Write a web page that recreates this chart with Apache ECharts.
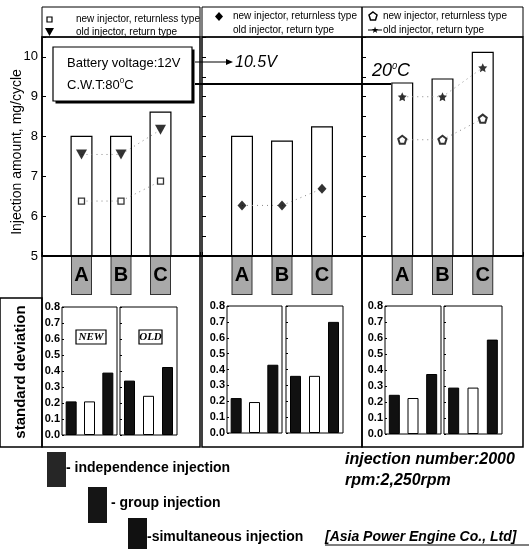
<!DOCTYPE html>
<html><head><meta charset="utf-8">
<script src="https://cdn.jsdelivr.net/npm/echarts@6/dist/echarts.min.js"></script>
<style>html,body{margin:0;padding:0;background:#fff}#c{width:532px;height:549px}</style>
</head><body><div id="c"></div><script>
// ---------- data ----------
const categories = ['A', 'B', 'C'];
const categoryPos = [1, 2, 3];
const injectionModes = ['independence injection', 'group injection', 'simultaneous injection'];
// total bar heights (mg/cycle)
const barTop12V = [8.02, 8.02, 8.63];
const barTop105V = [8.02, 7.9, 8.26];
const barTop20C = [9.36, 9.46, 10.13];
// markers (mg/cycle)
const newInj12V = [6.38, 6.38, 6.88];
const oldInj12V = [7.55, 7.55, 8.17];
const newInj105V = [6.27, 6.27, 6.69];
const newInj20C = [7.92, 7.92, 8.45];
const oldInj20C = [9.0, 9.0, 9.73];
// standard deviation
const sdNew12V = [0.21, 0.21, 0.39];
const sdOld12V = [0.34, 0.245, 0.425];
const sdNew105V = [0.22, 0.195, 0.43];
const sdOld105V = [0.36, 0.36, 0.70];
const sdNew20C = [0.245, 0.225, 0.375];
const sdOld20C = [0.29, 0.29, 0.59];

// ---------- layout ----------
const F = '"Liberation Sans", Arial, sans-serif';
const FN = '"Liberation Sans Narrow", "Arial Narrow", "Liberation Sans", sans-serif';
const topGrids = [[42, 158], [202, 160], [362, 161]];
const botGrids = [[62, 55, 307, 128], [120, 57, 307, 128], [227, 55, 306, 127], [286, 57, 306, 127], [385, 56, 306, 128], [444, 58, 306, 128]];
const PENT = 'path://M0,-10 L9.5,-3.1 L5.9,8.1 L-5.9,8.1 L-9.5,-3.1 Z';
const STAR = 'path://M0,-10 L2.9,-4 L9.5,-3.1 L4.7,1.5 L5.9,8.1 L0,5 L-5.9,8.1 L-4.7,1.5 L-9.5,-3.1 L-2.9,-4 Z';

const grid = [];
const xAxis = [];
const yAxis = [];
topGrids.forEach(([l, w], i) => {
  grid.push({left: l, top: 37, width: w, height: 219, show: false});
  xAxis.push({
    type: 'value', gridIndex: i, min: 0, max: 4, interval: 1,
    axisLine: {show: true, lineStyle: {color: '#000', width: 2}},
    axisTick: {show: true, inside: true, length: 4, lineStyle: {color: '#000'}},
    splitLine: {show: false},
    axisLabel: {
      margin: 1,
      formatter: v => (v >= 1 && v <= 3) ? '{b|' + categories[v - 1] + '}' : '',
      rich: {b: {backgroundColor: '#a9a9a9', borderColor: '#333', borderWidth: 1, width: 19, height: 37, lineHeight: 37,
        align: 'center', verticalAlign: 'middle', fontSize: 20, fontWeight: 'bold', fontFamily: F, color: '#000'}}
    }
  });
  yAxis.push({
    type: 'value', gridIndex: i, min: 5, max: 10.5, interval: i === 0 ? 1 : 0.5,
    axisLine: {show: i === 0, lineStyle: {color: '#000', width: 1.5}},
    axisTick: {show: true, inside: true, length: 4, lineStyle: {color: '#000'}},
    splitLine: {show: false},
    axisLabel: {show: i === 0, color: '#000', fontSize: 13, fontFamily: F, margin: 4,
      formatter: v => Number.isInteger(v) ? String(v) : ''}
  });
});
botGrids.forEach(([l, w, t, h], j) => {
  const gi = 3 + j;
  grid.push({left: l, top: t, width: w, height: h, show: true, borderColor: '#000', borderWidth: 1});
  xAxis.push({type: 'category', gridIndex: gi, data: injectionModes,
    axisLine: {show: false}, axisTick: {show: false}, axisLabel: {show: false}});
  yAxis.push({type: 'value', gridIndex: gi, min: 0, max: 0.8, interval: 0.1,
    axisLine: {show: false}, splitLine: {show: false},
    axisTick: {show: true, inside: true, length: 2, lineStyle: {color: '#000'}},
    axisLabel: {show: j % 2 === 0, color: '#000', fontSize: 11, fontWeight: 'bold', fontFamily: F, margin: 2,
      formatter: v => v.toFixed(1)}});
});

const series = [];
[barTop12V, barTop105V, barTop20C].forEach((arr, p) => {
  series.push({type: 'bar', xAxisIndex: p, yAxisIndex: p, barWidth: 22, z: 1,
    data: arr.map((v, i) => [categoryPos[i], v]),
    itemStyle: {color: '#fff', borderColor: '#000', borderWidth: 1.2}});
});
function markers(p, arr, symbol, size, style, rotate) {
  series.push({type: 'line', xAxisIndex: p, yAxisIndex: p, z: 2, symbol: 'none',
    data: arr.map((v, i) => [categoryPos[i], v]),
    lineStyle: {color: '#888', width: 1, type: [1, 4]}});
  series.push({type: 'scatter', xAxisIndex: p, yAxisIndex: p, z: 3, symbol, symbolSize: size,
    symbolRotate: rotate || 0,
    data: arr.map((v, i) => [categoryPos[i], v]), itemStyle: style});
}
markers(0, newInj12V, 'rect', 6, {color: '#fff', borderColor: '#000', borderWidth: 1.3});
markers(0, oldInj12V, 'triangle', [11, 10], {color: '#000'}, 180);
markers(1, newInj105V, 'diamond', [9, 10], {color: '#000'});
markers(2, newInj20C, PENT, 8, {color: '#fff', borderColor: '#000', borderWidth: 2});
markers(2, oldInj20C, STAR, 9, {color: '#000'});

const sdSets = [sdNew12V, sdOld12V, sdNew105V, sdOld105V, sdNew20C, sdOld20C];
sdSets.forEach((arr, j) => {
  series.push({type: 'bar', xAxisIndex: 3 + j, yAxisIndex: 3 + j, barWidth: 11,
    data: arr.map((v, i) => ({value: v, itemStyle: i === 1
      ? {color: '#fff', borderColor: '#000', borderWidth: 1}
      : {color: '#111', borderColor: '#000', borderWidth: 1}}))});
});

// ---------- decorations ----------
const line = (x1, y1, x2, y2, w) => ({type: 'line', shape: {x1, y1, x2, y2}, style: {stroke: '#000', lineWidth: w || 1}, z: 10});
const box = (x, y, w, h, lw) => ({type: 'rect', shape: {x, y, width: w, height: h}, style: {fill: 'none', stroke: '#000', lineWidth: lw || 1}, z: 10});
const txt = (x, y, text, font, extra) => Object.assign({type: 'text', x, y, z: 15,
  style: Object.assign({text, font, fill: '#000', textVerticalAlign: 'middle', textAlign: 'left'}, extra || {})});
const legFont = '10px ' + FN;

const graphic = [
  // legend boxes
  box(42, 7, 158, 30), box(202, 7, 160, 30), box(362, 7, 161, 30),
  // panel frames
  box(42, 37, 158, 410, 1.5), box(202, 37, 160, 410, 1.5), box(362, 37, 161, 410, 1.5),
  box(0, 298, 42, 149, 1.5),
  line(42, 256, 523, 256, 2),
  // axis title
  {type: 'text', x: 17, y: 152, rotation: Math.PI / 2, z: 15,
    style: {text: 'Injection amount, mg/cycle', font: '14px ' + F, fill: '#000', textAlign: 'center', textVerticalAlign: 'middle'}},
  // legend contents
  {type: 'rect', shape: {x: 47, y: 17, width: 5, height: 5}, style: {fill: '#fff', stroke: '#000', lineWidth: 1.2}, z: 11},
  txt(76, 19.5, 'new injector, returnless type', legFont),
  {type: 'polygon', shape: {points: [[45, 28], [54, 28], [49.5, 36]]}, style: {fill: '#000'}, z: 11},
  txt(76, 32, 'old injector, return type', legFont),
  {type: 'polygon', shape: {points: [[219, 12], [223, 16.5], [219, 21], [215, 16.5]]}, style: {fill: '#000'}, z: 11},
  txt(233, 16.5, 'new injector, returnless type', legFont),
  txt(233, 30.5, 'old injector, return type', legFont),
  {type: 'polygon', shape: {points: [[373, 12], [377, 15], [375.5, 20], [370.5, 20], [369, 15]]}, style: {fill: '#fff', stroke: '#000', lineWidth: 1.5}, z: 11},
  txt(383, 16, 'new injector, returnless type', legFont),
  line(368, 30, 382, 30, 1),
  txt(375, 30.5, '★', '9px "DejaVu Sans"', {textAlign: 'center'}),
  txt(383, 30, 'old injector, return type', legFont),
  // annotation box with drop shadow
  {type: 'rect', shape: {x: 55.5, y: 49.5, width: 139, height: 54}, style: {fill: '#000'}, z: 12},
  {type: 'rect', shape: {x: 53, y: 47, width: 139, height: 54}, style: {fill: '#fff', stroke: '#000', lineWidth: 1.2}, z: 13},
  txt(67, 63, 'Battery voltage:12V', '13px ' + F),
  {type: 'text', x: 67, y: 85, z: 15, style: {rich: {n: {font: '13px ' + F, fill: '#000'}, s: {font: '8px ' + F, fill: '#000', padding: [0, 0, 8, 0]}},
    text: '{n|C.W.T:80}{s|0}{n|C}', textVerticalAlign: 'middle'}},
  line(195, 62, 228, 62, 1.2),
  {type: 'polygon', shape: {points: [[226, 59], [233, 62], [226, 65]]}, style: {fill: '#000'}, z: 11},
  txt(235, 63, '10.5V', 'italic 16px ' + F),
  line(195, 84, 391, 84, 2),
  {type: 'text', x: 372, y: 71, z: 15, style: {rich: {n: {font: 'italic 18px ' + F, fill: '#000'}, s: {font: 'italic 9px ' + F, fill: '#000', padding: [0, 0, 10, 0]}},
    text: '{n|20}{s|0}{n|C}', textVerticalAlign: 'middle'}},
  // NEW / OLD tags
  {type: 'rect', shape: {x: 76, y: 330, width: 30, height: 14}, style: {fill: '#fff', stroke: '#000', lineWidth: 1.2}, z: 12},
  txt(91, 337.5, 'NEW', 'italic bold 11px "Liberation Serif", serif', {textAlign: 'center'}),
  {type: 'rect', shape: {x: 139, y: 330, width: 23, height: 14}, style: {fill: '#fff', stroke: '#000', lineWidth: 1.2}, z: 12},
  txt(150.5, 337.5, 'OLD', 'italic bold 11px "Liberation Serif", serif', {textAlign: 'center'}),
  // standard deviation label
  {type: 'text', x: 21, y: 372, rotation: Math.PI / 2, z: 15,
    style: {text: 'standard deviation', font: 'bold 15px ' + F, fill: '#000', textAlign: 'center', textVerticalAlign: 'middle'}},
  // bottom legend
  {type: 'rect', shape: {x: 47, y: 452, width: 19, height: 35}, style: {fill: '#262626'}, z: 11},
  txt(66, 468, '- independence injection', 'bold 14px ' + FN),
  {type: 'rect', shape: {x: 88, y: 487, width: 19, height: 36}, style: {fill: '#151515'}, z: 11},
  txt(107, 503, ' - group injection', 'bold 14px ' + FN),
  {type: 'rect', shape: {x: 128, y: 518, width: 19, height: 31}, style: {fill: '#111'}, z: 11},
  txt(147, 537, '-simultaneous injection', 'bold 14px ' + FN),
  txt(345, 460, 'injection number:2000', 'italic bold 16px ' + F),
  txt(345, 481, 'rpm:2,250rpm', 'italic bold 16px ' + F),
  txt(325, 537, '[Asia Power Engine Co., Ltd]', 'italic bold 14px ' + F),
  line(325, 545, 529, 545, 1.2)
];

const chart = echarts.init(document.getElementById('c'), null, {renderer: 'canvas'});
chart.setOption({animation: false, backgroundColor: '#fff', grid, xAxis, yAxis, series, graphic});
</script></body></html>
